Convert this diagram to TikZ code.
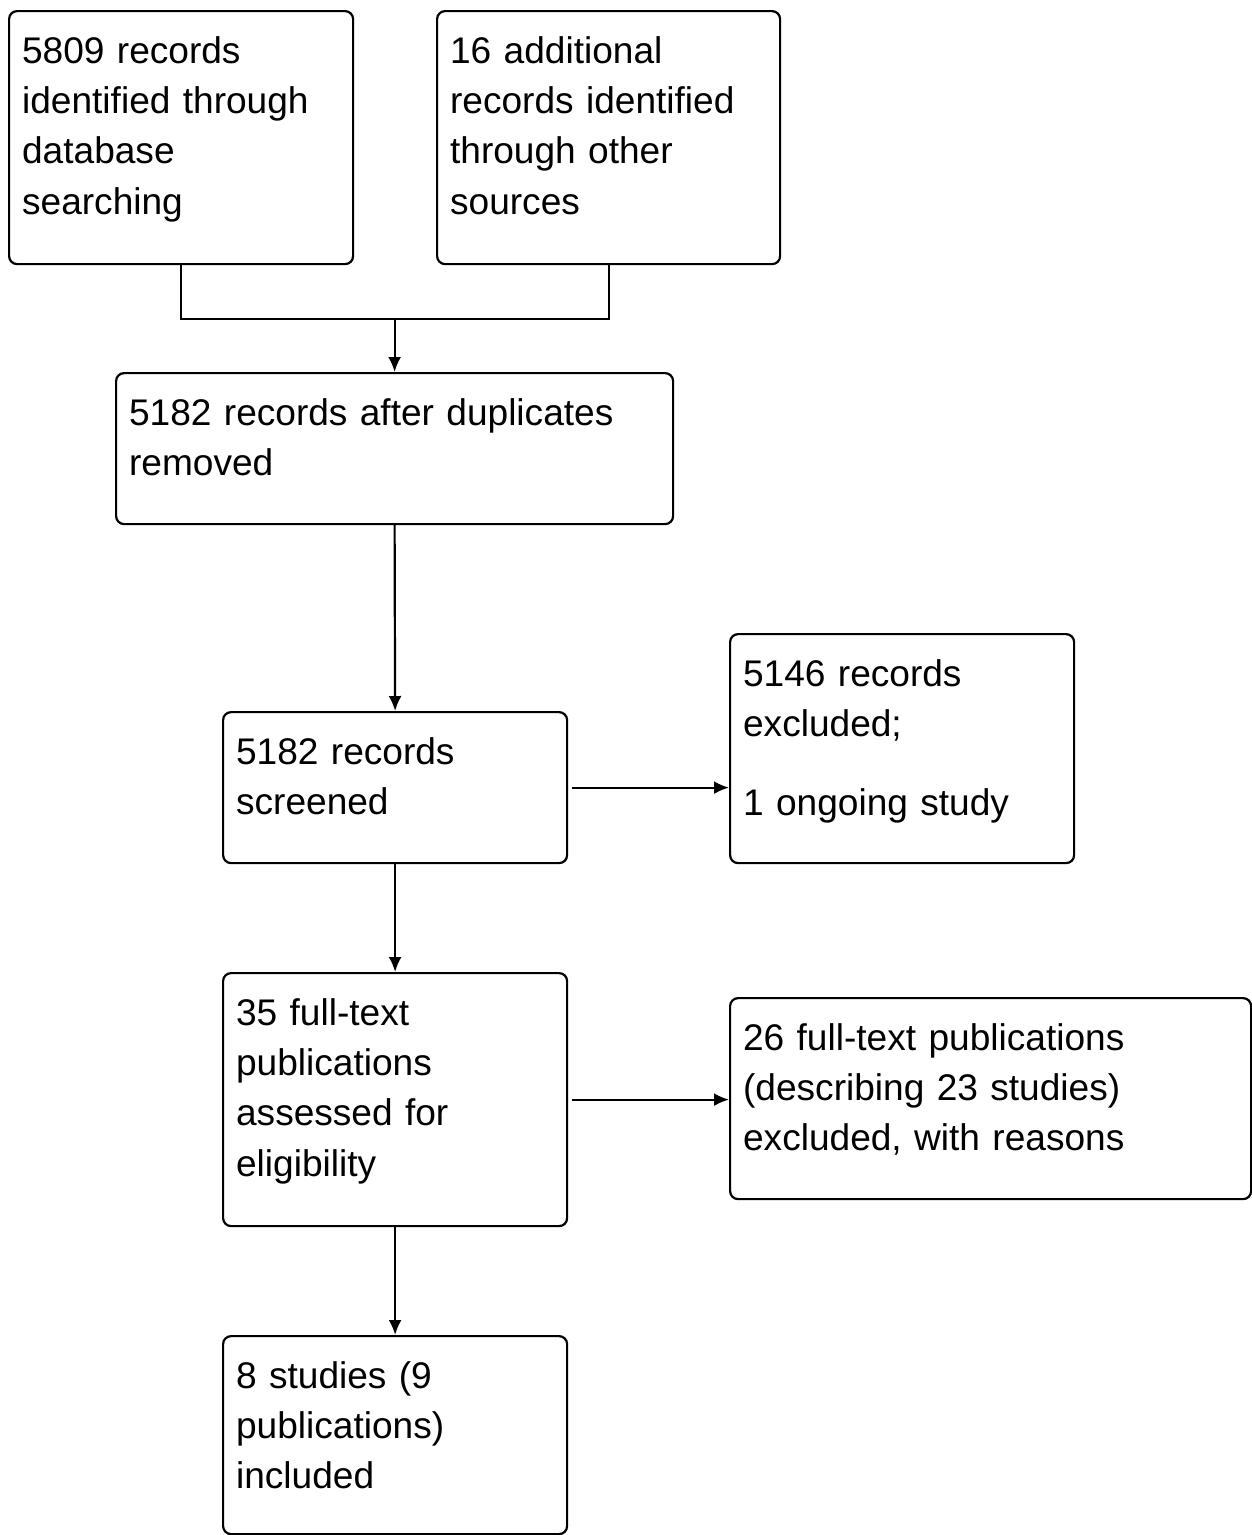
\documentclass[tikz,border=0pt]{standalone}
\usepackage{fontspec}
\setmainfont{Liberation Sans}
\usepackage{tikz}
\usetikzlibrary{arrows.meta, calc}
\tikzset{
    % Box styles - small rounded corners, text at the top left
    recbox/.style={
        rectangle,
        draw=black,
        rounded corners=0.16cm,
        line width=1.25pt,
        anchor=north west,
        align=left,
        inner xsep=0.26cm,
        inner ysep=0pt,
        text height=1.04cm,
        font=\fontsize{21.1}{28.7}\selectfont
    },
    % Arrow styles
    flowline/.style={
        line width=1.25pt
    },
    flowarrow/.style={
        -{Latex[length=0.3cm,width=0.26cm]},
        line width=1.25pt
    }
}

\begin{document}
\begin{tikzpicture}
                \useasboundingbox (0,0) rectangle (25.04,-30.70);

                % Identification
                \node[recbox, text width=6.36cm, text depth=4.02cm] (dbsearch) at (0.16,-0.20)
                    {5809 records\\identified through\\database\\searching};
                \node[recbox, text width=6.34cm, text depth=4.02cm] (othersrc) at (8.72,-0.20)
                    {16 additional\\records identified\\through other\\sources};

                % Duplicates and screening
                \node[recbox, text width=10.62cm, text depth=1.98cm] (dedup) at (2.30,-7.44)
                    {5182 records after duplicates\\removed};
                \node[recbox, text width=6.36cm, text depth=1.98cm] (screened) at (4.44,-14.22)
                    {5182 records\\screened};
                \node[recbox, text width=6.36cm, text depth=3.54cm] (excl) at (14.58,-12.66)
                    {5146 records\\excluded;\\[0.57cm]1 ongoing study};

                % Eligibility
                \node[recbox, text width=6.36cm, text depth=4.02cm] (fulltext) at (4.44,-19.44)
                    {35 full-text\\publications\\assessed for\\eligibility};
                \node[recbox, text width=9.90cm, text depth=2.98cm] (ftexcl) at (14.58,-19.94)
                    {26 full-text publications\\(describing 23 studies)\\excluded, with reasons};

                % Included
                \node[recbox, text width=6.36cm, text depth=2.92cm] (incl) at (4.44,-26.70)
                    {8 studies (9\\publications)\\included};

                % Connectors
                \coordinate (merge) at ($(dedup.north)+(0,1.06)$);
                \draw[flowline] (dbsearch.south) |- (merge) -| (othersrc.south);
                \draw[flowarrow] (merge) -- (dedup.north);
                \draw[flowarrow] (dedup.south) -- (screened.north);
                \draw[flowarrow, shorten <=0.08cm] (screened.east) -- (screened.east -| excl.west);
                \draw[flowarrow] (screened.south) -- (fulltext.north);
                \draw[flowarrow, shorten <=0.08cm] (fulltext.east) -- (fulltext.east -| ftexcl.west);
                \draw[flowarrow] (fulltext.south) -- (incl.north);
\end{tikzpicture}
\end{document}
